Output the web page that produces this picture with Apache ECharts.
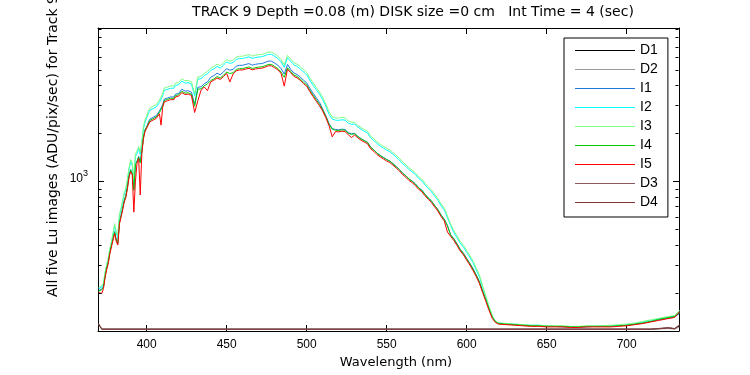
<!DOCTYPE html>
<html><head><meta charset="utf-8">
<script src="https://cdn.jsdelivr.net/npm/echarts@6/dist/echarts.min.js"></script>
<style>html,body{margin:0;padding:0;background:#fff}#c{width:750px;height:375px}</style>
</head><body><div id="c"></div>
<script>
const wavelength = [
370,371,372,373,374,375,376,377,378,379, 380,381,382,383,384,385,386,387,388,389,
390,391,392,393,394,395,396,397,398,399, 400,401,402,403,404,405,406,407,408,409,
410,411,412,413,414,415,416,417,418,419, 420,
422,424,426,428,430,432,434,436,438,440, 442,444,446,448,450,452,454,456,458,460,
462,464,466,468,470,472,474,476,478,480, 482,484,486,488,490,492,494,496,498,500,
502,504,506,508,510,512,514,516,518,520,
522,524,526,528,530,532,534,536,538,540, 542,544,546,548,550,552,554,556,558,560,
562,564,566,568,570,572,574,576,578,580, 582,584,586,588,590,592,594,596,598,600,
602,604,606,608,610,612,614,616,618,620,
625,630,635,640,645,650,655,660,665,670, 675,680,685,690,695,700,705,710,715,720,
725,730,733];

const I1 = [
206,209,211,218,255,286,314,361,400,410, 484,433,410,556,613,680,762,814,927,1092,
1185,1133,886,1288,1339,1432,1318,1545,1906,2112, 2184,2340,2454,2496,2517,2548,2579,2652,2756,2720,
3016,3276,3224,3328,3276,3380,3432,3380,3515,3536, 3557,
3780,3675,3696,3623,3045,3885,3917,4095,4200,4494, 4601,4762,4655,4847,5083,4976,5029,5275,5339,5339,
5414,5468,5350,5414,5457,5478,5564,5671,5671,5511, 5350,5083,4708,5404,5040,4778,4673,4515,4305,4148,
3833,3570,3339,3129,2843,2575,2297,2142,2112,2101,
2122,2112,2019,1988,1995,1912,1850,1800,1758,1636, 1575,1503,1452,1411,1370,1339,1288,1237,1186,1125,
1084,1033,1003,962,911,880,829,788,752,706, 665,614,578,527,461,436,405,374,354,328,
306,283,258,234,205,181,159,141,132,128,
127,126,125,124,124,123,123,122,122,122, 122,123,123,123,124,125,127,129,132,135,
138,141,148];

const I2 = [
212,215,217,225,263,295,323,371,411,422, 526,470,446,605,666,739,829,885,1008,1187,
1323,1265,989,1438,1495,1599,1472,1725,2128,2358, 2478,2655,2785,2832,2856,2891,2926,3009,3127,3080,
3422,3717,3658,3776,3717,3835,3894,3835,3988,4012, 4036,
4248,4130,4154,4071,3422,4366,4401,4602,4720,4956, 5074,5251,5133,5345,5605,5487,5546,5817,5888,5888,
5971,6030,5900,5971,6018,6042,6136,6254,6254,6077, 5900,5605,5192,5959,5664,5369,5251,5074,4838,4661,
4307,4012,3752,3516,3257,2950,2631,2454,2419,2407,
2431,2419,2313,2277,2282,2188,2118,2059,2012,1872, 1802,1720,1661,1615,1568,1533,1474,1416,1357,1287,
1240,1182,1147,1100,1041,1006,948,901,860,807, 761,702,661,590,527,476,442,409,386,358,
334,308,277,251,216,187,162,142,132,129,
128,127,126,125,125,124,123,123,122,122, 123,123,124,124,125,126,128,131,134,137,
140,143,153];

const I3 = [
216,219,221,229,268,300,329,378,419,430, 541,483,458,621,684,759,851,909,1035,1219,
1369,1309,1023,1488,1547,1654,1523,1785,2202,2440, 2562,2745,2879,2928,2952,2989,3026,3111,3233,3180,
3538,3843,3782,3904,3843,3965,4026,3965,4124,4148, 4172,
4392,4270,4294,4209,3538,4514,4551,4758,4880,5124, 5246,5429,5307,5527,5795,5673,5734,6015,6088,6088,
6173,6234,6100,6173,6222,6246,6344,6466,6466,6283, 6100,5795,5368,6161,5856,5551,5429,5246,5002,4819,
4453,4148,3880,3636,3367,3050,2721,2538,2501,2489,
2513,2501,2391,2355,2340,2244,2172,2112,2064,1920, 1848,1764,1704,1656,1608,1572,1512,1452,1392,1320,
1272,1212,1176,1128,1068,1032,972,924,882,828, 780,720,678,605,540,489,454,420,397,368,
343,316,285,258,220,190,165,144,133,129,
128,127,126,125,125,124,124,124,123,123, 124,124,124,125,126,127,129,132,135,138,
141,144,155];

const I4 = [
204,207,209,216,253,284,311,357,396,406, 479,428,406,551,607,673,755,806,918,1081,
1173,1122,877,1275,1326,1418,1306,1530,1887,2091, 2142,2295,2407,2448,2468,2499,2530,2601,2703,2660,
2958,3213,3162,3264,3213,3315,3366,3315,3448,3468, 3488,
3672,3570,3590,3519,2958,3774,3805,3978,4080,4284, 4386,4539,4437,4621,4845,4743,4794,5029,5090,5090,
5161,5212,5100,5161,5202,5222,5304,5406,5406,5253, 5100,4845,4488,5151,4896,4641,4539,4386,4182,4029,
3723,3468,3244,3040,2815,2550,2275,2122,2091,2081,
2101,2091,1999,1969,1989,1907,1846,1795,1754,1632, 1571,1499,1448,1408,1367,1336,1285,1234,1183,1122,
1081,1030,1000,959,908,877,826,785,750,704, 663,612,576,525,459,434,403,372,352,326,
304,281,257,233,204,180,158,140,131,128,
127,126,125,124,124,123,123,123,122,122, 123,123,123,123,124,125,127,129,132,136,
139,142,150];

const I5 = [
200,203,198,212,248,278,305,350,388,398, 470,420,398,540,595,660,740,790,900,1060,
1150,1100,640,1000,1300,1390,820,1500,1850,2050, 2100,2250,2360,2400,2420,2450,2480,2550,2650,2250,
2900,3150,3100,3200,3150,3250,3300,3250,3380,3400, 3420,
3600,3500,3520,3450,2700,3200,3730,3900,3700,4200, 4300,4450,4350,4530,4750,4200,4700,4930,4990,4990,
5060,5110,5000,5060,5100,5120,5200,5300,5300,5150, 5000,4750,3950,5050,4800,4550,4450,4300,4100,3950,
3650,3400,3180,2980,2760,2500,2230,1900,2050,2040,
2060,2050,1960,1880,1950,1870,1810,1760,1720,1600, 1540,1470,1420,1380,1340,1310,1260,1210,1160,1100,
1060,1010,980,940,890,860,810,770,735,690, 650,600,565,480,450,425,395,365,345,320,
298,275,252,228,200,176,155,138,130,127,
126,125,124,123,123,122,122,122,121,121, 122,122,122,122,123,124,126,128,131,134,
137,140,152];

const darkWavelength = [370,371,372,400,450,500,550,600,650,700,715,726,730,733];
const D1 = [127,127,118,118,118,118,118,118,118,118,118,120,119,124];
const D2 = [126,126,118,118,118,118,118,118,118,118,118,119,118,122];
const D3 = [128,127,118,118,118,118,118,118,118,118,118,121,119,126];
const D4 = [127,127,118,118,118,118,118,118,118,118,118,120,119,125];

const xTickValues = [400,450,500,550,600,650,700];
const yMinorTicks = [200,300,400,500,600,700,800,900,2000,3000,4000,5000,6000,7000,8000,9000];

const X_MIN = 369.6, X_MAX = 732.7, Y_MIN = 115, Y_MAX = 9150;

const names  = ['D1','D2','I1','I2','I3','I4','I5','D3','D4'];
const colors = ['#000000','#999999','#1f78e0','#00ffff','#80ff80','#00cc00','#ff0000','#8c5a5a','#803838'];
const valuesByName = {I1, I2, I3, I4, I5, D1, D2, D3, D4};

const pairs = (xs, ys) => xs.map((x, i) => [x, ys[i]]);

const lineSeries = names.map((n, k) => ({
  name: n, type: 'line', showSymbol: false, symbol: 'none',
  xAxisIndex: 0, yAxisIndex: 0,
  data: n[0] === 'D' ? pairs(darkWavelength, valuesByName[n]) : pairs(wavelength, valuesByName[n]),
  lineStyle: {color: colors[k], width: 1},
  itemStyle: {color: colors[k]},
  emphasis: {disabled: true},
  animation: false
}));

const minorTickSeries = {
  type: 'custom', name: 'minorTicks', silent: true, clip: false, z: 10,
  xAxisIndex: 0, yAxisIndex: 0,
  data: yMinorTicks.map(v => [X_MIN, v]),
  encode: {x: 0, y: 1},
  renderItem: (params, api) => {
    const v = api.value(1);
    const l = api.coord([X_MIN, v]);
    const r = api.coord([X_MAX, v]);
    const y = Math.round(l[1]) + 0.5;
    const lx = Math.round(l[0]) + 0.5, rx = Math.round(r[0]) - 0.5;
    return {type: 'group', children: [
      {type: 'line', shape: {x1: lx, y1: y, x2: lx + 3, y2: y}, style: {stroke: '#000', lineWidth: 1}},
      {type: 'line', shape: {x1: rx - 3, y1: y, x2: rx, y2: y}, style: {stroke: '#000', lineWidth: 1}}
    ]};
  }
};

const axisFont = {fontFamily: 'Liberation Sans', fontSize: 12, color: '#000'};

const chart = echarts.init(document.getElementById('c'), null, {renderer: 'canvas'});
chart.setOption({
  backgroundColor: '#ffffff',
  animation: false,
  grid: {left: 98, top: 28, right: 71, bottom: 44, containLabel: false, outerBoundsMode: 'none'},
  legend: {
    data: names, orient: 'vertical', left: 564, top: 38,
    icon: 'rect', itemWidth: 60, itemHeight: 1, itemGap: 4,
    padding: [5, 10, 7, 11],
    borderColor: '#000', borderWidth: 1, backgroundColor: '#fff', borderRadius: 0,
    selectedMode: false,
    itemStyle: {borderWidth: 0},
    textStyle: {fontFamily: 'Liberation Sans', fontSize: 14, lineHeight: 15, color: '#000'}
  },
  xAxis: [
    {type: 'value', position: 'bottom', min: X_MIN, max: X_MAX, splitNumber: 7,
     axisLine: {show: true, onZero: false, lineStyle: {color: '#000', width: 1}},
     axisTick: {show: true, inside: true, length: 6, lineStyle: {color: '#000'}},
     axisLabel: {show: true, margin: 8, ...axisFont, showMinLabel: false, showMaxLabel: false,
       formatter: v => xTickValues.some(t => Math.abs(t - v) < 0.01) ? String(Math.round(v)) : ''},
     splitLine: {show: false}},
    {type: 'value', position: 'top', min: X_MIN, max: X_MAX, splitNumber: 7,
     axisLine: {show: true, onZero: false, lineStyle: {color: '#000', width: 1}},
     axisTick: {show: true, inside: true, length: 6, lineStyle: {color: '#000'}},
     axisLabel: {show: false}, splitLine: {show: false}}
  ],
  yAxis: [
    {type: 'log', logBase: 10, position: 'left', min: Y_MIN, max: Y_MAX,
     axisLine: {show: true, onZero: false, lineStyle: {color: '#000', width: 1}},
     axisTick: {show: true, inside: true, length: 6, lineStyle: {color: '#000'}},
     axisLabel: {show: true, margin: 10, showMinLabel: false, showMaxLabel: false,
       formatter: v => Math.abs(v - 1000) < 1 ? '{a|10}{b|3}' : '',
       rich: {a: {fontFamily: 'Liberation Sans', fontSize: 12, color: '#000', padding: [0, 0, 5, 0]},
              b: {fontFamily: 'Liberation Sans', fontSize: 9, color: '#000', padding: [0, 0, 16, 0]}}},
     splitLine: {show: false}, minorTick: {show: false}},
    {type: 'log', logBase: 10, position: 'right', min: Y_MIN, max: Y_MAX,
     axisLine: {show: true, onZero: false, lineStyle: {color: '#000', width: 1}},
     axisTick: {show: true, inside: true, length: 6, lineStyle: {color: '#000'}},
     axisLabel: {show: false}, splitLine: {show: false}}
  ],
  graphic: [
    {type: 'text', x: 413, y: 12, silent: true,
     style: {text: 'TRACK 9 Depth =0.08 (m) DISK size =0 cm   Int Time = 4 (sec)', x: 0, y: 0,
       align: 'center', verticalAlign: 'middle', fontFamily: 'DejaVu Sans', fontSize: 14, fill: '#000'}},
    {type: 'text', x: 396, y: 363, silent: true,
     style: {text: 'Wavelength (nm)', x: 0, y: 0, align: 'center', verticalAlign: 'middle',
       fontFamily: 'DejaVu Sans', fontSize: 13, fill: '#000'}},
    {type: 'text', x: 53, y: 146, rotation: Math.PI / 2, silent: true,
     style: {text: 'All five Lu images (ADU/pix/sec) for Track 9', x: 0, y: 0, align: 'center', verticalAlign: 'middle',
       fontFamily: 'DejaVu Sans', fontSize: 14, fill: '#000'}}
  ],
  series: [...lineSeries, minorTickSeries]
});
</script>
</body></html>
